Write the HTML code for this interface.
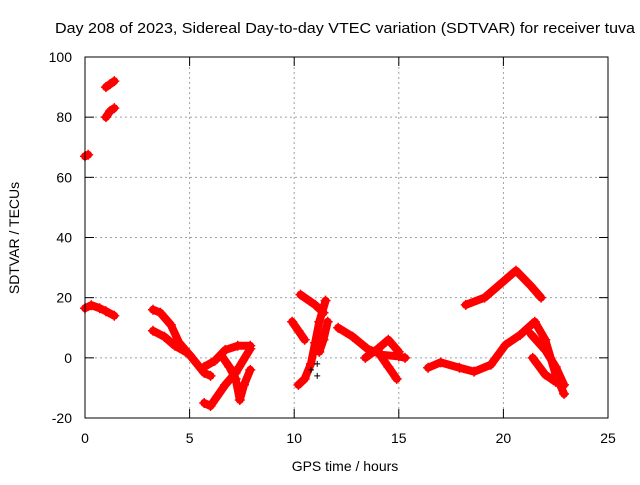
<!DOCTYPE html>
<html><head><meta charset="utf-8"><style>
body{margin:0;background:#fff}
svg text{font-family:"Liberation Sans",sans-serif;font-size:14px;fill:#000}
</style></head><body>
<svg id="chart" width="640" height="480">
<rect width="640" height="480" fill="#fff"/>
<text x="55" y="33" textLength="580" lengthAdjust="spacingAndGlyphs" style="font-size:15px">Day 208 of 2023, Sidereal Day-to-day VTEC variation (SDTVAR) for receiver tuva</text>
<text x="345" y="471" text-anchor="middle">GPS time / hours</text>
<text transform="translate(19,238) rotate(-90)" text-anchor="middle">SDTVAR / TECUs</text>
<g id="grid"></g><g id="ticks"></g><g id="marks"></g>
<rect x="85" y="57" width="523" height="361" fill="none" stroke="#000" stroke-width="1"/>
</svg>
<script>
const xTicks=[0,5,10,15,20,25];
const yTicks=[-20,0,20,40,60,80,100];
const tracks=[
[[0,67],[0.15,67.5]],
[[1.0,80],[1.2,82],[1.4,83]],
[[1.0,90],[1.2,91],[1.4,92]],
[[0,16.5],[0.3,17.5],[0.7,16.5],[1.0,15.5],[1.4,14]],
[[3.25,16],[3.6,15],[4.1,11],[4.5,5],[5,1],[5.7,-5],[6,-6]],
[[3.25,9],[3.8,7],[4.3,4],[4.8,2]],
[[5.7,-3],[6.2,-1],[6.7,2.6],[7.3,4],[7.9,4]],
[[5.7,-15],[6,-16],[6.7,-9],[7.2,-5],[7.9,3]],
[[6.5,1],[6.9,-3],[7.2,-7],[7.4,-14],[7.6,-9],[7.9,-4]],
[[10.3,21],[11,17.6],[11.4,15]],
[[11.5,19],[11.2,12],[11,5],[10.8,-2],[10.5,-7],[10.2,-9]],
[[11.6,12],[11.4,6],[11.2,2]],
[[9.9,12],[10.2,9],[10.5,6]],
[[12.1,10],[12.8,7],[13.5,3],[14.2,1],[15,0.5],[15.3,0]],
[[13.4,0],[14,3],[14.5,6],[15,2]],
[[14,2],[14.5,-3],[14.9,-7]],
[[18.2,17.6],[19.1,20],[20.1,26],[20.6,29],[21.3,24],[21.8,20]],
[[16.4,-3.3],[17,-1.5],[17.9,-3.3],[18.6,-4.6],[19.4,-2.3],[20.1,4.3],[20.8,7.6],[21.5,12],[22,6],[22.5,-5.6],[22.9,-12]],
[[21.3,8],[22,2.6],[22.5,-3],[22.9,-9]],
[[21.4,0],[22,-5.6],[22.5,-8]]
];
const blackPts=[[11.1,-2],[11.1,-6],[10.8,-4]];
const X=v=>85+v*523/25, Y=v=>418-(v+20)*361/120;
const ns="http://www.w3.org/2000/svg";
const mk=(t,a,p)=>{const e=document.createElementNS(ns,t);for(const k in a)e.setAttribute(k,a[k]);p.appendChild(e);return e;};
const grid=document.getElementById('grid'),ticks=document.getElementById('ticks'),marks=document.getElementById('marks');
xTicks.forEach(t=>{
 if(t>0&&t<25){const g=mk('line',{x1:X(t),x2:X(t),y1:57,y2:418,stroke:'#a0a0a0','stroke-dasharray':'2,3'},grid);
 
 }
 mk('line',{x1:X(t),x2:X(t),y1:418,y2:409,stroke:'#000'},ticks);
 mk('line',{x1:X(t),x2:X(t),y1:57,y2:66,stroke:'#000'},ticks);
 const l=mk('text',{x:X(t),y:443,'text-anchor':'middle'},ticks);l.textContent=t;
 
 
});
yTicks.forEach(t=>{
 if(t>-20&&t<100){const g=mk('line',{x1:85,x2:608,y1:Y(t),y2:Y(t),stroke:'#a0a0a0','stroke-dasharray':'2,3'},grid);
 
 }
 mk('line',{x1:85,x2:94,y1:Y(t),y2:Y(t),stroke:'#000'},ticks);
 mk('line',{x1:608,x2:599,y1:Y(t),y2:Y(t),stroke:'#000'},ticks);
 const l=mk('text',{x:72,y:Y(t)+5,'text-anchor':'end'},ticks);l.textContent=t;
 
 
});
tracks.forEach(tr=>{
 const p=mk('polyline',{points:tr.map(d=>X(d[0])+','+Y(d[1])).join(' '),fill:'none',stroke:'#f00','stroke-width':8,'stroke-linejoin':'round','stroke-linecap':'round'},marks);
 
 
 tr.forEach(d=>{mk('path',{d:`M${X(d[0])-5},${Y(d[1])}h10M${X(d[0])},${Y(d[1])-5}v10`,stroke:'#f00','stroke-width':1.5},marks);});
});
blackPts.forEach(d=>{
 const p=mk('path',{d:`M${X(d[0])-3},${Y(d[1])}h6M${X(d[0])},${Y(d[1])-3}v6`,stroke:'#000','stroke-width':1},marks);
 
 
});
</script>
</body></html>
